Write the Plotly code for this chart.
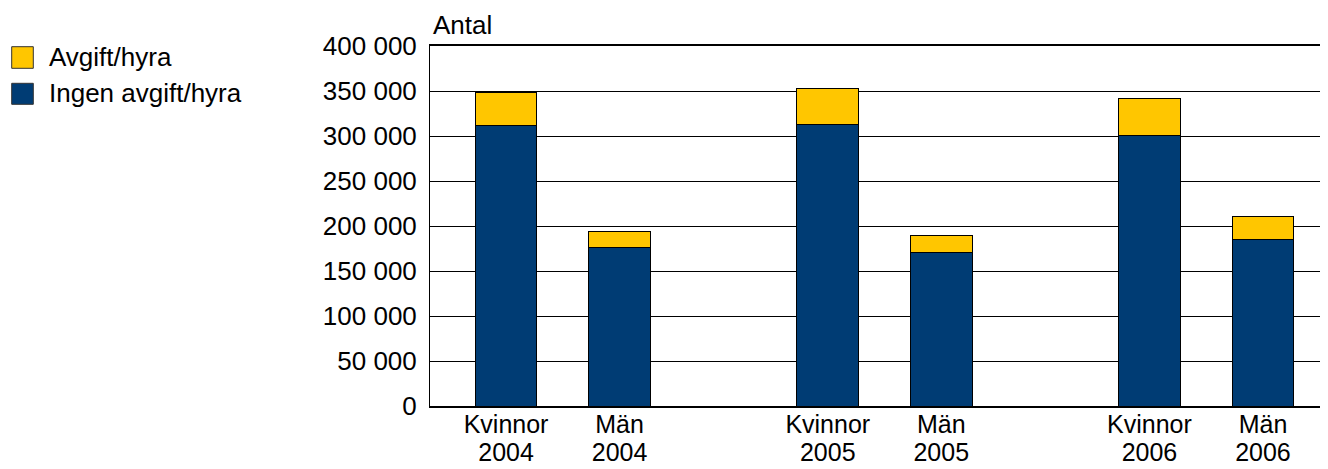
import plotly.graph_objects as go

# ---- data ----
sexes = ["Kvinnor", "Män"]
years = ["2004", "2005", "2006"]
series_names = ["Avgift/hyra", "Ingen avgift/hyra"]
ingen_avgift = [311500, 175600, 312300, 170800, 300500, 184500]
avgift = [36800, 18800, 40900, 18900, 41000, 25900]
y_ticks = [0, 50000, 100000, 150000, 200000, 250000, 300000, 350000, 400000]
y_title = "Antal"

# ---- layout constants ----
# the page body has an 8px default margin, so the figure is shifted by 8px
OFF = 8
W, H = 1328 - OFF, 469 - OFF
L, R, T, B = 430 - OFF, 0, 46 - OFF, 63
PW, PH = W - L - R, H - T - B
GROUP_STEP = 2.834
BAR_W = 0.544
FONT = "Liberation Sans, Arial, sans-serif"
FS = 26
FSX = 25
YELLOW = "#FFC600"
NAVY = "#003C74"

def px_x(p):
    # p: pixel x in window coordinates
    return (p - OFF - L) / PW

def px_y(p):
    # p: pixel y in window coordinates
    return (H - B - (p - OFF)) / PH

xpos, sex_lbl, year_lbl = [], [], []
for gi, yr in enumerate(years):
    for si, sx in enumerate(sexes):
        xpos.append(gi * GROUP_STEP + si)
        sex_lbl.append(sx)
        year_lbl.append(yr)

fig = go.Figure()
fig.add_trace(go.Bar(x=xpos, y=ingen_avgift, name=series_names[1], width=BAR_W,
                     marker=dict(color=NAVY, line=dict(color="black", width=1)),
                     showlegend=False))
fig.add_trace(go.Bar(x=xpos, y=avgift, name=series_names[0], width=BAR_W,
                     marker=dict(color=YELLOW, line=dict(color="black", width=1)),
                     showlegend=False))
# helper trace to register the second (year) x axis
fig.add_trace(go.Scatter(x=[None], y=[None], xaxis="x2", yaxis="y",
                         showlegend=False, hoverinfo="skip"))

xr = [-0.67, 2 * GROUP_STEP + 1 + 0.573]
fig.update_layout(
    width=W, height=H,
    margin=dict(l=L, r=R, t=T, b=B, autoexpand=False),
    paper_bgcolor="white", plot_bgcolor="white",
    barmode="stack",
    separators=", ",
    font=dict(family=FONT, size=FS, color="black"),
    xaxis=dict(range=xr, tickmode="array", tickvals=xpos, ticktext=sex_lbl,
               showgrid=False, zeroline=False, showline=True, linecolor="black",
               linewidth=2, mirror=True, ticks="", ticklabelstandoff=-5,
               automargin=False,
               tickfont=dict(family=FONT, size=FSX, color="black")),
    xaxis2=dict(range=xr, overlaying="x", anchor="y", side="bottom",
                tickmode="array", tickvals=xpos, ticktext=year_lbl,
                showgrid=False, zeroline=False, showline=False, ticks="",
                ticklabelstandoff=29, automargin=False,
                tickfont=dict(family=FONT, size=FSX, color="black")),
    yaxis=dict(range=[0, 400000], tickmode="array", tickvals=y_ticks,
               tickformat=",d", showgrid=True, gridcolor="black", gridwidth=1,
               zeroline=False, showline=True, linecolor="black", linewidth=1,
               ticks="", ticklabelstandoff=7, automargin=False,
               tickfont=dict(family=FONT, size=FS, color="black")),
)

# legend drawn manually (large square swatches)
legend_rows = [(series_names[0], YELLOW, 46.7, 68.3, 57.0),
               (series_names[1], NAVY, 83.3, 104.3, 92.6)]
for name, col, top, bot, mid in legend_rows:
    fig.add_shape(type="rect", xref="paper", yref="paper",
                  x0=px_x(11.7), x1=px_x(33.3), y0=px_y(bot), y1=px_y(top),
                  fillcolor=col, line=dict(color="#333333", width=1))
    fig.add_annotation(text=name, xref="paper", yref="paper",
                       x=px_x(46.5), y=px_y(mid), xanchor="left", yanchor="middle",
                       showarrow=False, font=dict(family=FONT, size=FS, color="black"))

fig.add_annotation(text=y_title, xref="paper", yref="paper",
                   x=px_x(431), y=px_y(25.3), xanchor="left", yanchor="middle",
                   showarrow=False, font=dict(family=FONT, size=FS, color="black"))

fig.write_html("out.html")
